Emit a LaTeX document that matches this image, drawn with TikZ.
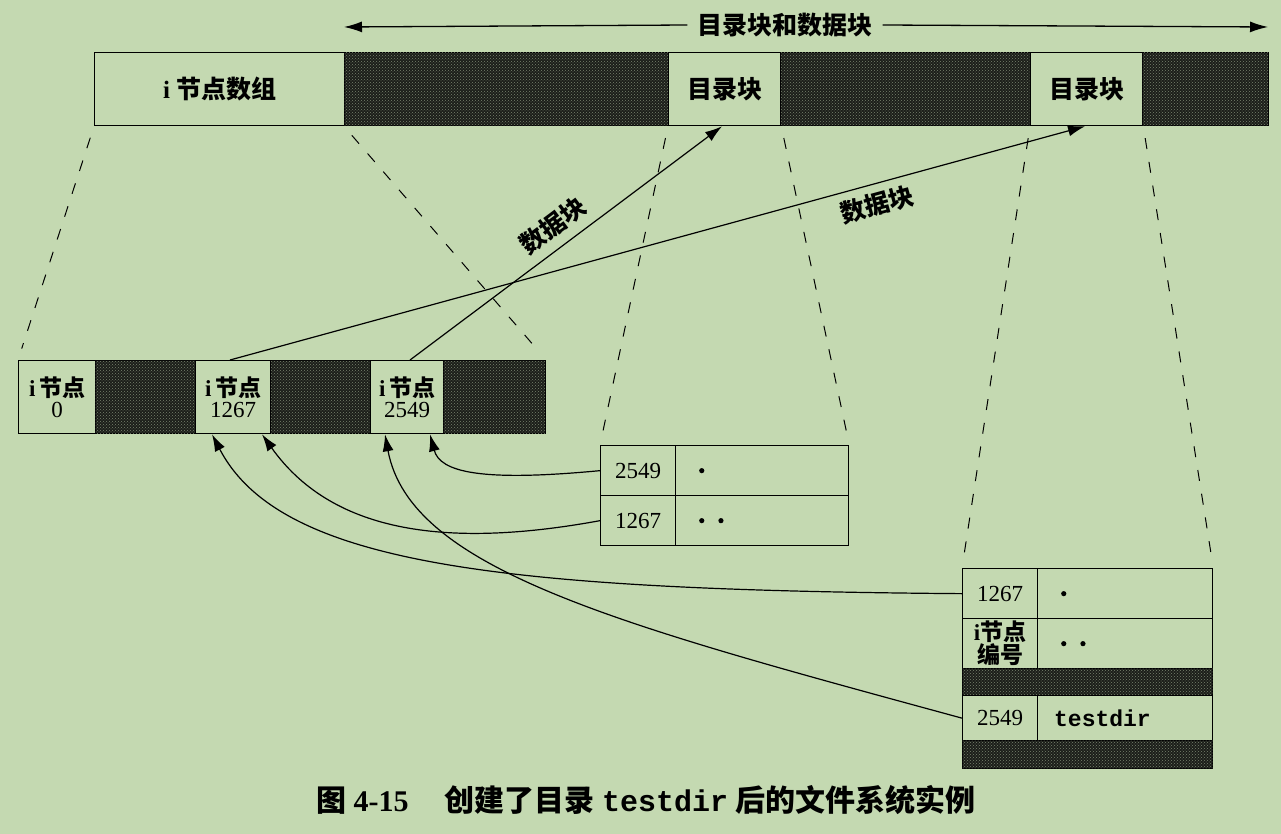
\documentclass[tikz,border=0pt]{standalone}
\usepackage{fontspec}
\setmainfont{Liberation Serif}
\setmonofont{Liberation Mono}
\newfontfamily\cjk{Noto Sans CJK SC}
\usetikzlibrary{patterns,arrows.meta}
\definecolor{bgc}{RGB}{196,217,177}
\definecolor{darkc}{RGB}{28,30,26}
\definecolor{speck}{RGB}{120,132,110}
\newcommand{\bigdot}{\tikz[baseline=0pt]\fill (0,2.5pt) circle (2.6pt);}
\begin{document}
\begin{tikzpicture}[x=1pt,y=-1pt,
  cell/.style={draw=black, line width=1.3pt, fill=bgc, inner sep=0pt, anchor=north west, align=center},
  darkcell/.style={cell, fill=darkc, postaction={pattern=crosshatch dots, pattern color=speck}},
  entry/.style={cell, align=left},
  guide/.style={line width=1pt, dash pattern=on 11pt off 13pt, shorten <=12pt, shorten >=12pt},
  link/.style={line width=1.2pt, -{Latex[length=17pt,width=11pt]}},
  zhlab/.style={font=\cjk\bfseries\fontsize{25}{27}\selectfont},
  num/.style={font=\fontsize{23}{24}\selectfont}
]
\useasboundingbox (0,0) rectangle (1281,834);
\fill[bgc] (0,0) rectangle (1281,834);

% top bar
\node[cell, minimum width=250, minimum height=73] (tA) at (94,52) {\bfseries\fontsize{25}{27}\selectfont i {\cjk 节点数组}};
\node[darkcell, minimum width=324, minimum height=73] (tB) at (344,52) {};
\node[cell, minimum width=112, minimum height=73, zhlab] (tC) at (668,52) {目录块};
\node[darkcell, minimum width=250, minimum height=73] (tD) at (780,52) {};
\node[cell, minimum width=112, minimum height=73, zhlab] (tE) at (1030,52) {目录块};
\node[darkcell, minimum width=126, minimum height=73] (tF) at (1142,52) {};

% top span arrow
\coordinate (spanL) at (344,27);
\coordinate (spanR) at (1268,27);
\node[fill=bgc, inner xsep=10pt, inner ysep=2pt, zhlab] (spanlab) at (785,25) {目录块和数据块};
\draw[line width=1.3pt, -{Latex[length=18pt,width=11pt]}] (spanlab.west) -- (spanL);
\draw[line width=1.3pt, -{Latex[length=18pt,width=11pt]}] (spanlab.east) -- (spanR);

% inode bar
\node[cell, minimum width=77, minimum height=73, num] (i0) at (18,360) {{\bfseries i\,\cjk 节点}\\[-3pt]0};
\node[darkcell, minimum width=100, minimum height=73] (d1) at (95,360) {};
\node[cell, minimum width=75, minimum height=73, num] (i1267) at (195,360) {{\bfseries i\,\cjk 节点}\\[-3pt]1267};
\node[darkcell, minimum width=100, minimum height=73] (d2) at (270,360) {};
\node[cell, minimum width=73, minimum height=73, num] (i2549) at (370,360) {{\bfseries i\,\cjk 节点}\\[-3pt]2549};
\node[darkcell, minimum width=102, minimum height=73] (d3) at (443,360) {};

% directory block 1
\node[cell, minimum width=75, minimum height=50, num] (a1) at (600,445) {2549};
\node[entry, minimum width=173, minimum height=50, text width=126] (b1) at (675,445) {\bigdot};
\node[cell, minimum width=75, minimum height=50, num] (a2) at (600,495) {1267};
\node[entry, minimum width=173, minimum height=50, text width=126] (b2) at (675,495) {\bigdot\hspace{14pt}\bigdot};

% directory block 2
\node[cell, minimum width=75, minimum height=50, num] (c1) at (962,568) {1267};
\node[entry, minimum width=175, minimum height=50, text width=128] (e1) at (1037,568) {\bigdot};
\node[cell, minimum width=75, minimum height=50, font=\cjk\bfseries\fontsize{23}{20}\selectfont] (c2) at (962,618) {{\rmfamily i}节点\\编号};
\node[entry, minimum width=175, minimum height=50, text width=128] (e2) at (1037,618) {\bigdot\hspace{14pt}\bigdot};
\node[darkcell, minimum width=250, minimum height=27] (f1) at (962,668) {};
\node[cell, minimum width=75, minimum height=45, num] (c3) at (962,695) {2549};
\node[entry, minimum width=175, minimum height=45, text width=142, font=\ttfamily\bfseries\fontsize{23}{24}\selectfont] (e3) at (1037,695) {testdir};
\node[darkcell, minimum width=250, minimum height=28] (f2) at (962,740) {};

% dashed guide lines
\draw[guide] (tA.south west) -- (i0.north west);
\draw[guide] (tB.south west) -- (d3.north east);
\draw[guide] (tC.south west) -- (a1.north west);
\draw[guide] (tC.south east) -- (b1.north east);
\draw[guide] (tE.south west) -- (c1.north west);
\draw[guide] (tE.south east) -- (e1.north east);

% data block pointers
\coordinate (p2549) at ([xshift=40pt]i2549.north west);
\coordinate (p1267) at ([xshift=35pt]i1267.north west);
\coordinate (q1) at ([xshift=54pt]tC.south west);
\coordinate (q2) at ([xshift=55pt]tE.south west);
\draw[link] (p2549) -- node[pos=0.5, above, sloped, inner sep=9pt, zhlab] (lab1) {数据块} (q1);
\draw[link] (p1267) -- node[pos=0.75, below, sloped, inner sep=8pt, zhlab] (lab2) {数据块} (q2);

% inode number back pointers
\coordinate (r1) at ([xshift=60pt]i2549.south west);
\coordinate (r2) at ([xshift=67pt]i1267.south west);
\coordinate (r3) at ([xshift=17pt]i1267.south west);
\coordinate (r4) at ([xshift=15pt]i2549.south west);
\draw[link] (a1.west) .. controls (480,482) and (440,472) .. (r1);
\draw[link] (a2.west) .. controls (440,550) and (330,530) .. (r2);
\draw[link] (c1.west) .. controls (500,590) and (280,565) .. (r3);
\draw[link] (c3.west) .. controls (620,625) and (410,570) .. (r4);

% caption
\node[font=\fontsize{30}{32}\selectfont\bfseries, anchor=center] (cap) at (646,800)
  {{\cjk 图} 4-15\hspace{36pt}{\cjk 创建了目录} {\ttfamily testdir} {\cjk 后的文件系统实例}};
\end{tikzpicture}
\end{document}
